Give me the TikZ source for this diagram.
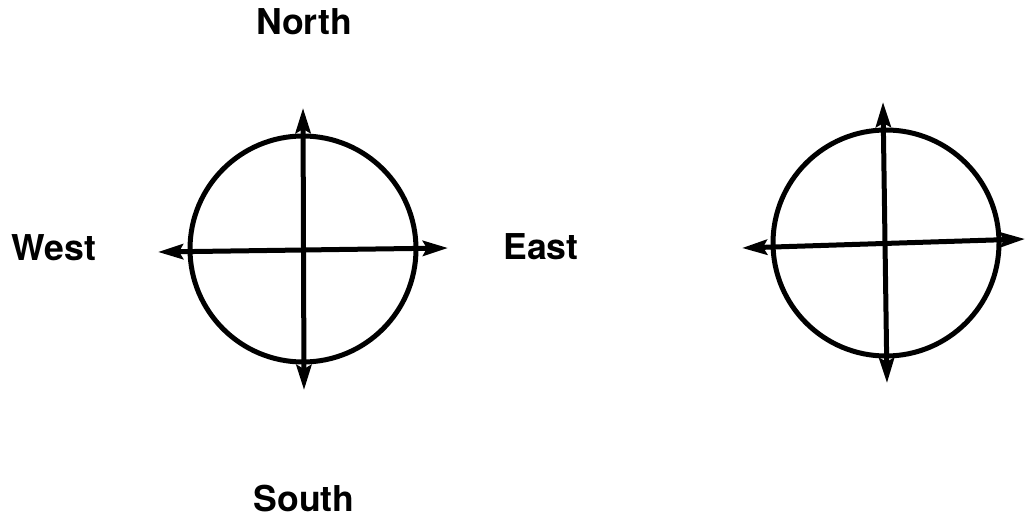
\documentclass[tikz,border=0pt]{standalone}
\usepackage{fontspec}
\setmainfont{TeX Gyre Heros}
\usepackage{tikz}
\usetikzlibrary{arrows.meta}
\definecolor{tinte}{HTML}{000000}
\tikzset{
  pfeil/.style={{Stealth[length=12.5pt,width=7.5pt,inset=2pt]}-{Stealth[length=12.5pt,width=7.5pt,inset=2pt]},tinte,line width=2.5pt},
  kreis/.style={draw=tinte,line width=2.5pt},
  beschr/.style={inner sep=0pt,text=tinte,font=\fontsize{17.8}{20}\selectfont\bfseries},
}
\begin{document}
\begin{tikzpicture}[x=0.5pt,y=-0.5pt]
  \useasboundingbox (0,0) rectangle (1026,524);
  % linke Scheibe
  \draw[kreis] (303,249) circle [radius=56.5pt];
  \coordinate (lN) at (303,108); \coordinate (lS) at (304,390);
  \coordinate (lW) at (158,252); \coordinate (lE) at (448,248);
  \draw[pfeil] (lS)--(lN);
  \draw[pfeil] (lW)--(lE);
  \node[beschr] (north) at (304,22) {North};
  \node[beschr] (south) at (304,499) {South};
  \node[beschr] (west) at (54,248) {West};
  \node[beschr] (east) at (541,247) {East};
  % rechte Scheibe
  \draw[kreis] (886,243) circle [radius=56.5pt];
  \coordinate (rN) at (883,102); \coordinate (rS) at (887,383);
  \coordinate (rW) at (742,248); \coordinate (rE) at (1025,239);
  \draw[pfeil] (rS)--(rN);
  \draw[pfeil] (rW)--(rE);
\end{tikzpicture}
\end{document}
